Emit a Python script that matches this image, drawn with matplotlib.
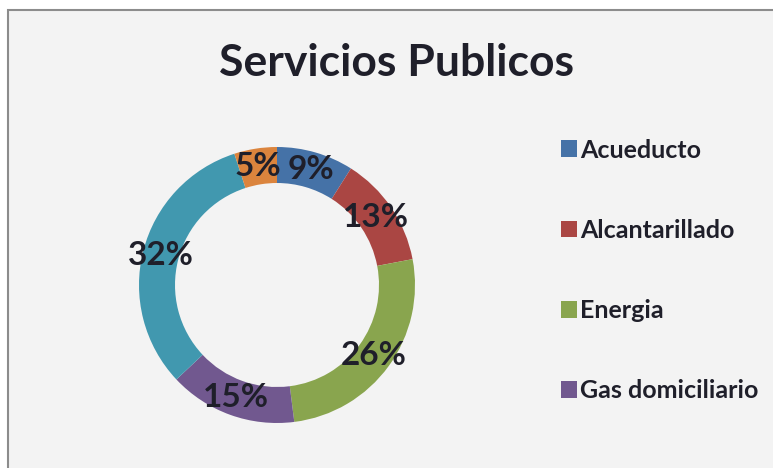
import matplotlib
matplotlib.use("Agg")
import matplotlib.pyplot as plt
from matplotlib.patches import Rectangle, Patch

# data
categorias = ["Acueducto", "Alcantarillado", "Energia", "Gas domiciliario",
              "Telefonia", "Otros"]
porcentajes = [9, 13, 26, 15, 32, 5]
colores = ["#4572a7", "#aa4643", "#89a54e", "#71588f", "#4198af", "#db843d"]
en_leyenda = 4  # only the first four entries fit in the visible legend

W, H = 773, 468
fig = plt.figure(figsize=(W / 100, H / 100), dpi=100, facecolor="white")

# chart area background with grey border
fig.patches.append(Rectangle((8 / W, -0.1), 1.0, (H - 10) / H + 0.1,
                             transform=fig.transFigure, facecolor="#f3f3f3",
                             edgecolor="#8c8c8c", linewidth=1.5, zorder=-1))

fig.text(396 / W, 1 - 63 / H, "Servicios Publicos", ha="center", va="center",
         fontsize=32, fontweight="bold", color="#1f1f2a", family="Lato")

# donut
cx, cy, r = 277, 285, 138
box = 140
ax = fig.add_axes([(cx - box) / W, (H - cy - box) / H, 2 * box / W, 2 * box / H])
rad = r / box
wedges, _, autotexts = ax.pie(
    porcentajes, colors=colores, startangle=90, counterclock=False,
    radius=rad, autopct="%1.0f%%", pctdistance=120 / r,
    wedgeprops=dict(width=36 / box, edgecolor="none"),
    textprops=dict(fontsize=24, fontweight="bold", color="#1f1f2a",
                   family="Lato"))
ax.set_xlim(-1, 1)
ax.set_ylim(-1, 1)
ax.axis("off")

handles = [Patch(facecolor=c, edgecolor="none") for c in colores[:en_leyenda]]
fig.legend(handles, categorias[:en_leyenda], loc="upper left",
           bbox_to_anchor=(538 / W, 1 - 116 / H), frameon=False,
           prop=dict(family="Lato", weight="bold", size=18),
           handlelength=0.65, handleheight=0.65, handletextpad=0.15,
           labelspacing=2.29, labelcolor="#1f1f2a")

fig.savefig("out.png", dpi=100, facecolor=fig.get_facecolor())
